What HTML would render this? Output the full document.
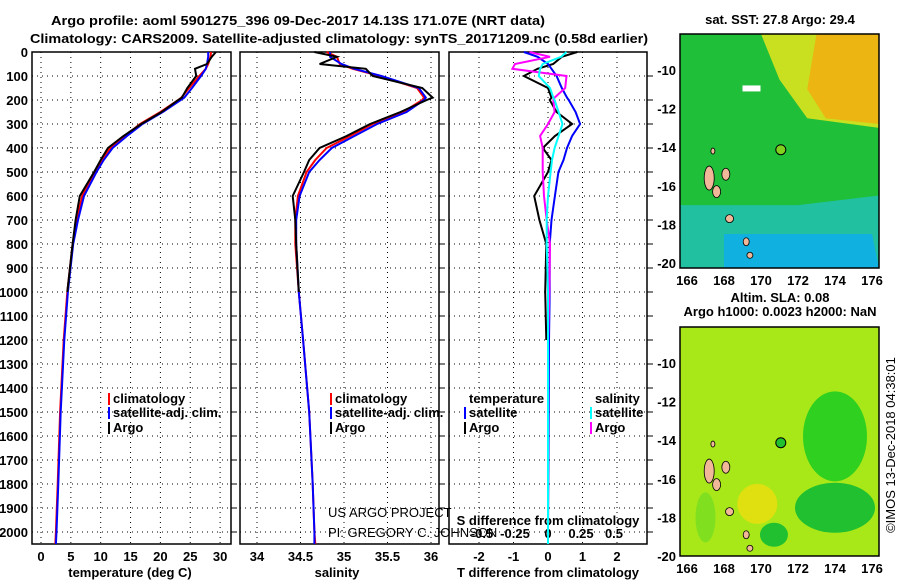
<!DOCTYPE html>
<html><head><meta charset="utf-8"><style>
body{margin:0;background:#fff;}
svg text{font-family:"Liberation Sans",sans-serif;font-weight:bold;font-size:13px;fill:#000;}
</style></head><body>
<svg id="c" width="900" height="580" xmlns="http://www.w3.org/2000/svg">
<text x="298" y="25" text-anchor="middle" font-size="15" textLength="494" lengthAdjust="spacingAndGlyphs">Argo profile: aoml 5901275_396 09-Dec-2017 14.13S 171.07E (NRT data)</text>
<text x="339" y="43" text-anchor="middle" font-size="15" textLength="618" lengthAdjust="spacingAndGlyphs">Climatology: CARS2009. Satellite-adjusted climatology: synTS_20171209.nc (0.58d earlier)</text>
<g id="g"></g>
</svg>
<script>
// depth levels
const depths=[0,20,50,70,100,150,190,200,250,300,350,400,450,500,600,700,800,1000,1200,1500,1800,2000,2050];
const tempClim=[28.5,28.4,28.0,27.6,26.5,24.8,23.5,23.0,20.0,16.6,14.0,11.6,10.2,9.0,6.9,6.0,5.3,4.4,3.8,3.2,2.8,2.5,2.4];
const tempSat =[28.0,28.0,27.8,27.6,26.8,25.3,24.0,23.4,20.4,17.0,14.4,12.0,10.5,9.3,7.2,6.2,5.4,4.5,3.9,3.3,2.9,2.6,2.5];
const tempArgo=[29.3,28.6,27.8,25.8,26.0,24.5,23.6,23.0,20.2,16.8,13.8,11.2,10.0,8.9,6.5,5.8,5.3,4.4,null,null,null,null,null];
const salClim=[34.8,34.92,34.95,35.1,35.41,35.84,35.92,35.9,35.68,35.33,35.07,34.8,34.67,34.57,34.47,34.44,34.44,34.48,34.53,34.6,34.64,34.66,34.67];
const salSat =[34.84,34.84,34.97,35.12,35.43,35.86,35.94,35.92,35.72,35.38,35.12,34.86,34.72,34.6,34.49,34.45,34.45,34.48,34.53,34.6,34.64,34.66,34.66];
const salArgo=[34.66,34.92,34.72,35.25,35.33,35.9,36.02,35.95,35.65,35.3,35.03,34.72,34.6,34.54,34.41,34.44,34.45,34.48,null,null,null,null,null];
const dTArgo=[0.85,0.4,0.15,-0.3,-0.7,0.0,0.1,0.05,0.25,0.7,0.2,-0.15,0.1,0.0,-0.4,-0.25,-0.05,-0.08,-0.05,null,null,null,null];
const dTSat=[-0.7,-0.3,0.0,0.1,0.25,0.4,0.55,0.6,0.8,0.93,0.7,0.55,0.45,0.3,0.2,0.1,0.05,0.05,0.03,0.02,0.01,0.0,0.0];
const dSArgo=[-0.14,0.015,-0.25,-0.27,0.14,0.13,0.05,0.04,0.05,0.0,-0.06,-0.04,-0.04,-0.04,-0.03,-0.01,0.015,0.01,0.0,null,null,null,null];
const dSSat=[0.14,0.1,-0.04,-0.06,-0.07,0.015,0.04,0.05,0.08,0.11,0.08,0.05,0.03,0.02,0.0,-0.01,-0.01,0.0,0.0,0.0,0.0,0.0,0.0];
const depthTicks=[0,100,200,300,400,500,600,700,800,900,1000,1100,1200,1300,1400,1500,1600,1700,1800,1900,2000];
const tTicks=[0,5,10,15,20,25,30];
const sTicks=[34,34.5,35,35.5,36];
const dTTicks=[-2,-1,0,1,2];
const dSTicks=[-0.5,-0.25,0,0.25,0.5];
const lonTicks=[166,168,170,172,174,176];
const latTicks=[-10,-12,-14,-16,-18,-20];

const NS="http://www.w3.org/2000/svg";
const G=document.getElementById('g');
function mk(t,a,p){const e=document.createElementNS(NS,t);for(const k in a)e.setAttribute(k,a[k]);(p||G).appendChild(e);return e;}
const yD=d=>52+d*0.24;
const xT=t=>41+t*5.97, xS=s=>257+(s-34)*87, xdT=v=>548+v*34.5, xdS=v=>548+v*132;
const panels=[[32,231],[240,439],[449,647]];
const PB=544;
panels.forEach((p,i)=>{
  const r=mk('rect',{x:p[0],y:52,width:p[1]-p[0],height:PB-52,fill:'none',stroke:'#000','stroke-width':1.5});
  
  
  depthTicks.forEach(d=>{if(d===0)return;
    const l=mk('line',{x1:p[0],x2:p[1],y1:yD(d),y2:yD(d),stroke:'#000','stroke-dasharray':'1,4'});
    
    
    mk('line',{x1:p[1],x2:p[1]+6,y1:yD(d),y2:yD(d),stroke:'#000'});
  });
});
depthTicks.forEach(d=>{const t=mk('text',{x:28,y:yD(d)+5,'text-anchor':'end'});t.textContent=d;
  
  });
function xaxis(ticks,fx,p,fmt,ty){ticks.forEach(v=>{const x=fx(v);
  const l=mk('line',{x1:x,x2:x,y1:52,y2:PB,stroke:'#000','stroke-dasharray':'1,4'});
  
  
  if(ty){const t=mk('text',{x:x,y:ty,'text-anchor':'middle'});t.textContent=fmt(v);
  
  }});}
xaxis(tTicks,xT,0,v=>v,561);
xaxis(sTicks,xS,1,v=>v,561);
xaxis(dTTicks,xdT,2,v=>v,561);
dSTicks.forEach(v=>{const t=mk('text',{x:xdS(v),y:538,'text-anchor':'middle'});t.textContent=v;
  
  });
[[130,'temperature (deg C)'],[337,'salinity'],[548,'T difference from climatology']].forEach(a=>{
  const t=mk('text',{x:a[0],y:577,'text-anchor':'middle'});t.textContent=a[1];
  
  });
{const t=mk('text',{x:548,y:525,'text-anchor':'middle'});t.textContent='S difference from climatology';
 
 }
function line(vals,fx,col,name,w){let pts=[];vals.forEach((v,i)=>{if(v!==null)pts.push(fx(v).toFixed(1)+','+yD(depths[i]).toFixed(1));});
  const e=mk('polyline',{points:pts.join(' '),fill:'none',stroke:col,'stroke-width':w||2});
  
  }
line(tempClim,xT,'#f00','temp-climatology-line');
line(tempSat,xT,'#00f','temp-satellite-line');
line(tempArgo,xT,'#000','temp-argo-line');
line(salClim,xS,'#f00','sal-climatology-line');
line(salSat,xS,'#00f','sal-satellite-line');
line(salArgo,xS,'#000','sal-argo-line');
line(dTArgo,xdT,'#000','tdiff-argo-line');
line(dTSat,xdT,'#00f','tdiff-satellite-line');
line(dSArgo,xdS,'#f0f','sdiff-argo-line');
line(dSSat,xdS,'#0ff','sdiff-satellite-line');
function leg(x,y,col,txt){if(col)mk('rect',{x:x-5,y:y-10,width:2,height:12,fill:col});
  const t=mk('text',{x:x,y:y});t.textContent=txt;
  
  }
[[113],[335]].forEach(a=>{leg(a[0],403,'#f00','climatology');leg(a[0],417,'#00f','satellite-adj. clim.');leg(a[0],432,'#000','Argo');});
leg(469,403,null,'temperature');leg(469,417,'#00f','satellite');leg(469,432,'#000','Argo');
leg(595,403,null,'salinity');leg(595,417,'#0ff','satellite');leg(595,432,'#f0f','Argo');
[['US ARGO PROJECT',517],['PI: GREGORY C. JOHNSON',537]].forEach(a=>{const t=mk('text',{x:328,y:a[1]});t.textContent=a[0];
 t.style.fontWeight='normal';t.style.fontSize='13px';
 
 });

// maps
const mx=lon=>687+(lon-166)*18.5;
function map(y0,y1,top,name){
  const yy=lat=>y0+36+(-10-lat)*19.3;
  const g=mk('g',{});
  if(top){
    mk('rect',{x:680,y:y0,width:199,height:y1-y0,fill:'#1fbf3a'},g);
    mk('polygon',{points:`${mx(170)},${y0} 879,${y0} 879,${yy(-13)} ${mx(172.5)},${yy(-12.5)} ${mx(171)},${yy(-10.5)}`,fill:'#c8e020'},g);
    mk('polygon',{points:`${mx(173)},${y0} 879,${y0} 879,${yy(-12.8)} ${mx(173.5)},${yy(-12.5)} ${mx(172.5)},${yy(-11)}`,fill:'#f0b010',opacity:0.9},g);
    mk('polygon',{points:`680,${yy(-17)} ${mx(172)},${yy(-17)} 879,${yy(-16.5)} 879,${y1} 680,${y1}`,fill:'#20c0a0'},g);
    mk('polygon',{points:`${mx(168)},${yy(-18.5)} ${mx(176)},${yy(-18.5)} 879,${y1} ${mx(168)},${y1}`,fill:'#10b0e0'},g);
    mk('rect',{x:mx(169),y:yy(-10.8),width:18,height:6,fill:'#fff'},g);
  }else{
    mk('rect',{x:680,y:y0,width:199,height:y1-y0,fill:'#a8e818'},g);
    mk('ellipse',{cx:mx(174),cy:yy(-13.8),rx:32,ry:45,fill:'#30d020'},g);
    mk('ellipse',{cx:mx(174),cy:yy(-17.5),rx:40,ry:25,fill:'#20c030'},g);
    mk('ellipse',{cx:mx(170.7),cy:yy(-18.9),rx:14,ry:12,fill:'#20c030'},g);
    mk('ellipse',{cx:mx(169.8),cy:yy(-17.3),rx:20,ry:20,fill:'#e0e010'},g);
    mk('ellipse',{cx:mx(167),cy:yy(-18),rx:10,ry:25,fill:'#80e020'},g);
  }
  [[167.2,-15.6,5,12],[168.1,-15.4,4,6],[167.6,-16.3,4,6],[168.3,-17.7,4,4],[169.2,-18.9,3,4],[169.4,-19.6,3,3],[167.4,-14.2,2,3]].forEach(a=>{
    mk('ellipse',{cx:mx(a[0]),cy:yy(a[1]),rx:a[2],ry:a[3],fill:'#f0b898',stroke:'#000','stroke-width':0.8},g);});
  mk('circle',{cx:mx(171.07),cy:yy(-14.13),r:5,fill:top?'#80d020':'#20c030',stroke:'#000'},g);
  mk('rect',{x:680,y:y0,width:199,height:y1-y0,fill:'none',stroke:'#000','stroke-width':1.5},g);
  latTicks.forEach(l=>{const t=mk('text',{x:676,y:yy(l)+5,'text-anchor':'end'},g);t.textContent=l;
    
    });
  lonTicks.forEach(l=>{const t=mk('text',{x:mx(l),y:y1+17,'text-anchor':'middle'},g);t.textContent=l;
    
    });
}
map(34,268,true,'sst-map');
map(327,556,false,'sla-map');
[['sat. SST: 27.8 Argo: 29.4',24],['Altim. SLA: 0.08',302],['Argo h1000: 0.0023 h2000: NaN',316]].forEach(a=>{
  const t=mk('text',{x:780,y:a[1],'text-anchor':'middle'});t.textContent=a[0];
  
  });
{const t=mk('text',{x:895,y:445,'text-anchor':'middle',transform:'rotate(-90 895 445)'});
 t.style.fontWeight='normal';t.textContent='©IMOS 13-Dec-2018 04:38:01';
 
 }
</script>
</body></html>
